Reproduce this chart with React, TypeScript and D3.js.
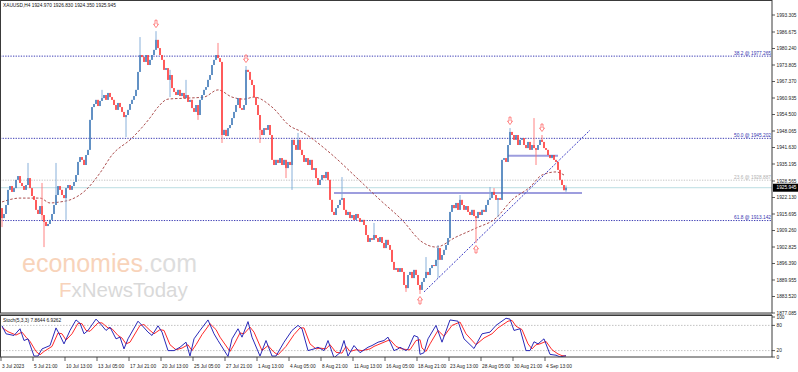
import * as d3 from "d3"

const W = 798
const H = 372
const PLOT_R = 772

const symbolHeader = "XAUUSD,H4  1924.970 1926.830 1924.350 1925.945"
const stochHeader = "Stoch(5,3,3) 7.8644 6.9262"

// H4 closes, one per bar (open = previous close)
const firstOpen = 1918.0
const closes = [
  1914.1, 1915.7, 1919.2, 1925.1, 1926.6, 1924.3, 1925.8, 1929.0, 1930.5, 1927.8,
  1926.6, 1925.1, 1927.0, 1929.7, 1925.8, 1922.7, 1921.2, 1917.3, 1915.7, 1918.8,
  1915.3, 1912.6, 1911.0, 1911.8, 1913.4, 1915.7, 1919.2, 1923.1, 1926.6, 1925.1,
  1923.1, 1921.9, 1925.8, 1927.0, 1925.1, 1926.6, 1928.2, 1930.9, 1936.0, 1937.9,
  1936.8, 1934.8, 1938.7, 1940.7, 1952.4, 1957.4, 1958.6, 1960.2, 1957.8, 1959.8,
  1960.9, 1962.1, 1960.2, 1962.9, 1961.3, 1960.2, 1958.2, 1956.3, 1959.0, 1957.4,
  1955.5, 1953.5, 1954.3, 1956.3, 1958.6, 1960.2, 1961.7, 1964.1, 1971.1, 1977.7,
  1976.9, 1975.0, 1977.7, 1973.8, 1975.8, 1977.7, 1979.7, 1983.6, 1980.4, 1977.7,
  1975.8, 1971.9, 1972.6, 1968.0, 1969.9, 1964.8, 1963.3, 1962.1, 1964.1, 1961.7,
  1962.9, 1960.9, 1962.1, 1959.4, 1960.2, 1957.0, 1955.5, 1958.2, 1954.3, 1960.2,
  1962.1, 1964.1, 1965.2, 1968.0, 1969.9, 1973.8, 1975.8, 1977.7, 1976.5, 1975.0,
  1946.5, 1948.5, 1946.1, 1949.2, 1950.4, 1953.1, 1955.5, 1958.2, 1960.9, 1957.0,
  1956.3, 1958.2, 1971.9, 1971.1, 1968.0, 1966.0, 1961.3, 1958.2, 1954.3, 1948.5,
  1946.5, 1949.2, 1948.5, 1950.4, 1946.5, 1936.8, 1934.8, 1936.8, 1935.6, 1937.5,
  1934.8, 1936.8, 1933.6, 1936.0, 1934.8, 1944.6, 1942.6, 1940.7, 1944.6, 1940.7,
  1938.7, 1936.0, 1937.5, 1934.8, 1936.8, 1932.9, 1933.6, 1929.7, 1927.0, 1929.0,
  1930.9, 1929.7, 1932.1, 1929.0, 1921.2, 1916.5, 1915.3, 1918.0, 1919.2, 1921.2,
  1921.9, 1917.3, 1915.3, 1916.5, 1914.1, 1915.3, 1913.4, 1915.7, 1914.1, 1912.6,
  1913.4, 1911.4, 1907.5, 1904.8, 1906.3, 1905.6, 1907.5, 1906.3, 1904.8, 1906.7,
  1904.4, 1902.4, 1905.6, 1903.6, 1901.7, 1897.0, 1893.9, 1894.6, 1893.1, 1894.6,
  1893.1, 1888.0, 1886.8, 1891.9, 1893.1, 1890.7, 1893.9, 1891.9, 1888.0, 1886.1,
  1889.2, 1890.7, 1893.1, 1891.9, 1894.6, 1895.8, 1895.4, 1897.8, 1902.4, 1897.8,
  1899.7, 1901.7, 1903.6, 1906.3, 1916.5, 1919.2, 1918.0, 1920.0, 1917.3, 1921.2,
  1919.2, 1917.3, 1918.8, 1916.5, 1915.3, 1917.3, 1914.9, 1914.1, 1916.5, 1915.3,
  1917.3, 1916.5, 1919.2, 1921.2, 1921.9, 1924.3, 1923.1, 1921.2, 1921.9, 1921.2,
  1936.8, 1937.5, 1936.0, 1942.6, 1947.7, 1946.5, 1944.6, 1946.5, 1942.6, 1944.6,
  1945.3, 1942.6, 1941.4, 1943.8, 1940.7, 1942.6, 1941.4, 1940.7, 1942.6, 1944.6,
  1943.8, 1941.4, 1940.7, 1938.7, 1937.5, 1938.7, 1936.8, 1936.0, 1932.9, 1929.0,
  1927.0, 1924.97, 1925.945,
]

// notable wicks [bar, price]
const highWicks: [number, number][] = [
  [13, 1935.6], [20, 1927.8], [27, 1935.6], [50, 1964.1], [69, 1984.7], [77, 1987.0],
  [84, 1971.9], [92, 1968.0], [108, 1982.4], [122, 1973.4], [148, 1947.3], [170, 1930.1],
  [186, 1912.2], [212, 1898.9], [218, 1903.6], [229, 1923.1], [244, 1926.2], [246, 1925.8],
  [254, 1949.2], [266, 1953.1], [270, 1946.5], [282, 1926.83],
]
const lowWicks: [number, number][] = [
  [0, 1910.6], [20, 1913.4], [21, 1902.8], [32, 1913.4], [62, 1945.7], [84, 1961.3],
  [98, 1952.4], [110, 1943.4], [129, 1943.4], [142, 1929.7], [145, 1925.1], [202, 1885.3],
  [209, 1884.5], [218, 1890.7], [237, 1904.4], [248, 1914.5], [267, 1934.8], [282, 1924.35],
]

// dashed moving average [bar, price]
const maPoints: [number, number][] = [
  [0, 1920.4], [9, 1921.9], [19, 1921.9], [24, 1920.0], [29, 1920.4], [34, 1921.2],
  [42, 1925.1], [49, 1931.7], [55, 1938.7], [65, 1945.3], [74, 1953.2], [78, 1957.4],
  [83, 1960.5], [93, 1960.9], [101, 1961.3], [108, 1964.1], [115, 1961.3], [121, 1960.5],
  [126, 1961.3], [135, 1957.4], [144, 1950.0], [150, 1947.7], [164, 1939.5], [177, 1930.1],
  [189, 1921.2], [200, 1913.4], [210, 1904.8], [217, 1902.8], [227, 1906.7], [237, 1910.2],
  [247, 1914.1], [255, 1921.2], [264, 1926.2], [270, 1930.9], [277, 1932.1], [281, 1930.9],
]

// stochastic main (%K) and signal [bar, value]
const stochMain: [number, number][] = [
  [0, 79], [2, 60], [6, 56], [9, 72], [11, 44], [13, 48], [16, 7], [18, 7], [20, 24], [24, 32],
  [27, 74], [29, 56], [31, 36], [34, 68], [37, 93], [39, 85], [41, 60], [43, 68], [47, 95], [49, 85],
  [52, 68], [54, 76], [57, 48], [59, 52], [61, 24], [63, 48], [68, 90], [70, 80], [73, 64], [75, 56],
  [78, 79], [80, 64], [83, 20], [86, 20], [89, 28], [92, 40], [94, 7], [96, 48], [99, 68], [103, 93],
  [106, 60], [108, 44], [113, 6], [115, 48], [118, 72], [120, 52], [123, 89], [125, 52], [129, 7], [132, 44],
  [135, 7], [137, 7], [141, 40], [145, 68], [148, 80], [150, 72], [153, 20], [156, 24], [158, 28], [161, 20],
  [163, 44], [166, 3], [169, 15], [171, 44], [173, 7], [176, 32], [179, 15], [183, 28], [185, 32], [188, 40],
  [191, 44], [193, 52], [196, 20], [198, 24], [199, 28], [202, 20], [203, 24], [206, 56], [208, 52], [209, 11],
  [211, 15], [213, 48], [217, 80], [220, 40], [224, 93], [228, 90], [231, 48], [236, 25], [240, 60], [244, 64],
  [247, 80], [252, 97], [254, 95], [256, 68], [259, 72], [262, 20], [264, 20], [266, 41], [268, 36], [271, 48],
  [274, 11], [277, 9], [279, 5], [282, 7.86],
]
const stochSignal: [number, number][] = [
  [0, 75], [3, 65], [7, 57], [10, 64], [12, 52], [14, 42], [17, 18], [19, 10], [21, 18], [25, 30],
  [28, 62], [30, 60], [32, 45], [35, 60], [38, 85], [40, 84], [42, 68], [44, 66], [48, 86], [50, 86],
  [53, 74], [55, 72], [58, 56], [60, 50], [62, 36], [64, 40], [69, 80], [71, 82], [74, 68], [76, 60],
  [79, 70], [81, 68], [84, 34], [87, 22], [90, 26], [93, 34], [95, 20], [97, 34], [100, 58], [104, 84],
  [107, 70], [109, 52], [114, 18], [116, 34], [119, 62], [121, 60], [124, 76], [126, 64], [130, 20], [133, 32],
  [136, 16], [138, 10], [142, 30], [146, 58], [149, 74], [151, 74], [154, 36], [157, 24], [159, 26], [162, 24],
  [164, 34], [167, 16], [170, 14], [172, 30], [174, 18], [177, 22], [180, 20], [184, 24], [186, 30], [189, 36],
  [192, 42], [194, 46], [197, 30], [200, 24], [203, 22], [204, 22], [207, 44], [209, 46], [210, 26], [212, 18],
  [214, 36], [218, 68], [221, 54], [225, 80], [229, 88], [232, 60], [237, 34], [241, 50], [245, 60], [248, 74],
  [253, 90], [255, 92], [257, 78], [260, 70], [263, 36], [265, 24], [267, 34], [269, 36], [272, 42], [275, 22],
  [278, 12], [280, 8], [282, 6.93],
]

const priceTicks = [
  1993.305, 1986.675, 1980.24, 1973.805, 1967.37, 1960.935, 1954.5, 1948.065, 1941.63,
  1935.195, 1928.565, 1922.13, 1915.695, 1909.26, 1902.825, 1896.39, 1889.955, 1883.52, 1877.085,
]
const currentPrice = 1925.945

const dateLabels = [
  "3 Jul 2023", "5 Jul 21:00", "10 Jul 13:00", "13 Jul 05:00", "17 Jul 21:00", "20 Jul 13:00",
  "25 Jul 05:00", "27 Jul 21:00", "1 Aug 13:00", "4 Aug 05:00", "8 Aug 21:00", "11 Aug 13:00",
  "16 Aug 05:00", "18 Aug 21:00", "23 Aug 13:00", "28 Aug 05:00", "30 Aug 21:00", "4 Sep 13:00",
]
const barsPerDateLabel = 16

const fibNames = ["38.2", "50.0", "23.6", "61.8"]
const fibPrices = [1977.265, 1945.202, 1928.887, 1913.142]

const stochLevels = [100, 80, 20, 0]

// drawn objects: trend ray [bar, price] pairs, horizontal lines [fromBar, toBar, price]
const trendLine: [number, number][] = [[211, 1885.3], [294, 1948.4]]
const hLines: [number, number, number][] = [[166, 290, 1923.9], [253, 278, 1938.4]]
const fractalDown = [77, 122, 254, 270]
const fractalUp = [209, 237]

const FONT = "'Liberation Sans', Arial, sans-serif"
const FS = 4.8

export default function App() {
  const x = d3.scaleLinear().domain([0, closes.length - 1]).range([2, 566])
  const y = d3.scaleLinear().domain([1877.085, 1993.305]).range([313, 15])
  const ys = d3.scaleLinear().domain([0, 100]).range([359, 317])

  const hiMap = new Map(highWicks)
  const loMap = new Map(lowWicks)
  const bars = closes.map((c, i) => {
    const o = i === 0 ? firstOpen : closes[i - 1]
    const h = hiMap.get(i) ?? Math.max(o, c)
    const l = loMap.get(i) ?? Math.min(o, c)
    return { i, o, h, l, c }
  })

  const maLine = d3
    .line<[number, number]>()
    .x((d) => x(d[0]))
    .y((d) => y(d[1]))
    .curve(d3.curveMonotoneX)
  const stLine = d3
    .line<[number, number]>()
    .x((d) => x(d[0]))
    .y((d) => ys(d[1]))

  const arrowDown = (cx: number, cy: number) =>
    `M${cx - 1},${cy - 4}H${cx + 1}V${cy}H${cx + 2.5}L${cx},${cy + 3.5}L${cx - 2.5},${cy}H${cx - 1}Z`
  const arrowUp = (cx: number, cy: number) =>
    `M${cx - 1},${cy + 4}H${cx + 1}V${cy}H${cx + 2.5}L${cx},${cy - 3.5}L${cx - 2.5},${cy}H${cx - 1}Z`

  const t0 = trendLine[0]
  const t1 = trendLine[1]

  return (
    <div style={{ position: "absolute", left: 0, top: 0, width: W, height: H, background: "#fff" }}>
      <svg width={W} height={H} viewBox={`0 0 ${W} ${H}`} style={{ display: "block" }}>
        <defs>
          <clipPath id="mainClip">
            <rect x={1} y={1} width={PLOT_R - 1} height={312} />
          </clipPath>
          <clipPath id="stochClip">
            <rect x={1} y={316} width={PLOT_R - 1} height={41} />
          </clipPath>
        </defs>
        <rect width={W} height={H} fill="#fff" />

        {/* watermark */}
        <text x={22} y={272} fontFamily={FONT} fontSize={25} fill="#f8d3ba">
          economies<tspan fill="#dddddd">.com</tspan>
        </text>
        <text x={59} y={297} fontFamily={FONT} fontSize={20.5} fill="#d9d9d9">
          <tspan fill="#f8d3ba">F</tspan>x<tspan>NewsToday</tspan>
        </text>

        <g clipPath="url(#mainClip)">
          {/* fib levels */}
          {fibPrices.map((p, k) => (
            <line
              key={"f" + k}
              x1={0}
              x2={PLOT_R}
              y1={y(p)}
              y2={y(p)}
              stroke={fibNames[k] === "23.6" ? "#c4c4c4" : "#3c3cb4"}
              strokeWidth={1}
              strokeDasharray="1.3,1.3"
            />
          ))}
          {/* current price line */}
          <line x1={0} x2={PLOT_R} y1={y(currentPrice)} y2={y(currentPrice)} stroke="#bcdde2" strokeWidth={1} />

          {/* horizontal drawn lines */}
          {hLines.map(([a, b, p], k) => (
            <line key={"h" + k} x1={x(a)} x2={x(b)} y1={y(p)} y2={y(p)} stroke="#9d9dde" strokeWidth={2} />
          ))}

          {/* moving average */}
          <path d={maLine(maPoints) ?? ""} fill="none" stroke="#a23a3a" strokeWidth={0.9} strokeDasharray="2.5,1.8" />

          {/* trend line (ray) */}
          <line
            x1={x(t0[0])}
            y1={y(t0[1])}
            x2={x(t1[0])}
            y2={y(t1[1])}
            stroke="#3b3bc4"
            strokeWidth={1}
            strokeDasharray="2,1.5"
          />

          {/* candles */}
          {bars.map((b) => {
            const up = b.c >= b.o
            const col = up ? "#2f6cb0" : "#ff2626"
            const wick = up ? "#7ba7d6" : "#ff7474"
            const top = y(Math.max(b.o, b.c))
            const bh = Math.max(1, y(Math.min(b.o, b.c)) - top)
            return (
              <g key={b.i}>
                <line x1={x(b.i)} x2={x(b.i)} y1={y(b.h)} y2={y(b.l)} stroke={wick} strokeWidth={0.9} />
                <rect x={x(b.i) - 0.65} y={top} width={1.3} height={bh} fill={col} />
              </g>
            )
          })}

          {/* fractal arrows */}
          {fractalDown.map((i) => (
            <path key={"d" + i} d={arrowDown(x(i), y(bars[i].h) - 7)} fill="#fff" stroke="#ff6565" strokeWidth={0.8} />
          ))}
          {fractalUp.map((i) => (
            <path key={"u" + i} d={arrowUp(x(i), y(bars[i].l) + 6)} fill="#fff" stroke="#ff6565" strokeWidth={0.8} />
          ))}

          {/* fib labels */}
          {fibPrices.map((p, k) => (
            <text
              key={"fl" + k}
              x={PLOT_R - 1}
              y={y(p) - 1.5}
              textAnchor="end"
              fontFamily={FONT}
              fontSize={FS}
              fill={fibNames[k] === "23.6" ? "#b0b0b0" : "#3535b0"}
            >
              {`${fibNames[k]} @ ${p.toFixed(3)}`}
            </text>
          ))}
        </g>

        {/* header */}
        <text x={3} y={7} fontFamily={FONT} fontSize={FS} fill="#111">
          {symbolHeader}
        </text>

        {/* stochastic panel */}
        {[80, 20].map((v) => (
          <line key={"sl" + v} x1={0} x2={PLOT_R} y1={ys(v)} y2={ys(v)} stroke="#b5b5b5" strokeWidth={0.8} strokeDasharray="1.5,1.5" />
        ))}
        <g clipPath="url(#stochClip)">
          <path d={stLine(stochSignal) ?? ""} fill="none" stroke="#ff2a2a" strokeWidth={1} />
          <path d={stLine(stochMain) ?? ""} fill="none" stroke="#2a2ab8" strokeWidth={1} />
        </g>
        <text x={3} y={322} fontFamily={FONT} fontSize={FS} fill="#111">
          {stochHeader}
        </text>

        {/* frames */}
        <rect x={0.5} y={0.5} width={PLOT_R - 0.5} height={312.5} fill="none" stroke="#3a3a3a" strokeWidth={1} />
        <line x1={0} x2={PLOT_R} y1={314.5} y2={314.5} stroke="#8a8a8a" strokeWidth={2} />
        <rect x={0.5} y={315.5} width={PLOT_R - 0.5} height={41.5} fill="none" stroke="#3a3a3a" strokeWidth={1} />

        {/* price axis */}
        {priceTicks.map((p) => (
          <g key={"pt" + p}>
            <line x1={PLOT_R} x2={PLOT_R + 3} y1={y(p)} y2={y(p)} stroke="#333" strokeWidth={0.8} />
            <text x={PLOT_R + 4.5} y={y(p) + 1.7} fontFamily={FONT} fontSize={FS} fill="#222">
              {p.toFixed(3)}
            </text>
          </g>
        ))}
        <rect x={PLOT_R + 1} y={y(currentPrice) - 4} width={W - PLOT_R - 1} height={8} fill="#000" />
        <text x={PLOT_R + 4.5} y={y(currentPrice) + 1.7} fontFamily={FONT} fontSize={FS} fill="#fff">
          {currentPrice.toFixed(3)}
        </text>

        {/* stochastic axis */}
        {stochLevels.map((v) => (
          <g key={"sv" + v}>
            <line x1={PLOT_R} x2={PLOT_R + 3} y1={Math.min(ys(v), 357)} y2={Math.min(ys(v), 357)} stroke="#333" strokeWidth={0.8} />
            <text x={PLOT_R + 4.5} y={Math.min(ys(v), 357) + 1.7} fontFamily={FONT} fontSize={FS} fill="#222">
              {v}
            </text>
          </g>
        ))}

        {/* time axis */}
        {dateLabels.map((lbl, k) => {
          const tx = x(k * barsPerDateLabel) - 1
          return (
            <g key={"d" + k}>
              <line x1={tx} x2={tx} y1={357} y2={361} stroke="#333" strokeWidth={0.8} />
              <text x={tx + 1} y={367.5} fontFamily={FONT} fontSize={FS} fill="#222">
                {lbl}
              </text>
            </g>
          )
        })}
      </svg>
    </div>
  )
}
